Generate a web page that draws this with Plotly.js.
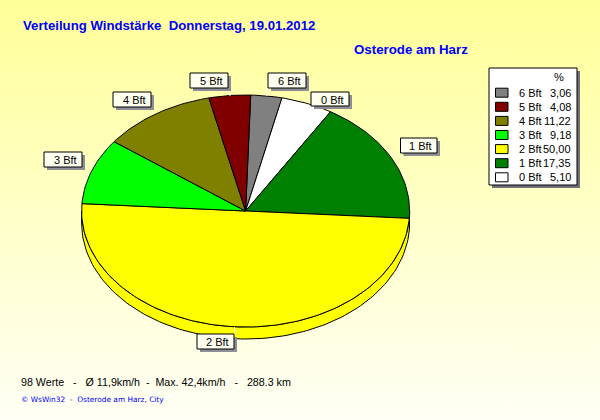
<!DOCTYPE html>
<html><head><meta charset="utf-8">
<script src="https://cdn.plot.ly/plotly-3.0.1.min.js"></script>
<style>html,body{margin:0;padding:0;width:600px;height:420px;overflow:hidden}
#c{width:600px;height:420px;background:linear-gradient(to bottom,#FFFF99 0%,#FFFFF5 100%)}</style>
</head><body><div id="c"></div>
<script>
// Data (clockwise drawing order, starting just right of 12 o'clock)
var categories = ['6 Bft','0 Bft','1 Bft','2 Bft','3 Bft','4 Bft','5 Bft'];
var percents   = [3.06, 5.10, 17.35, 50.00, 9.18, 11.22, 4.08];
var percentTexts = ['3,06','5,10','17,35','50,00','9,18','11,22','4,08'];
var colors     = ['#808080','#FFFFFF','#008000','#FFFF00','#00FF00','#808000','#800000'];
var legendOrder = ['6 Bft','5 Bft','4 Bft','3 Bft','2 Bft','1 Bft','0 Bft'];
var titleText = 'Verteilung Windstärke  Donnerstag, 19.01.2012';
var stationText = 'Osterode am Harz';
var statsText = '98 Werte   -   Ø 11,9km/h  -  Max. 42,4km/h   -   288.3 km';
var creditText = '© WsWin32  -  Osterode am Harz, City';
var labelBoxes = {'6 Bft':[268,73,306,88],'0 Bft':[311,92,349,106],'1 Bft':[400.5,138,437,153],
 '2 Bft':[197,334,234,349],'3 Bft':[44,152,82,167],'4 Bft':[113,92,151,107],'5 Bft':[190,73,228,88]};
var leaders = [[230,88,230,96],[267,88,267,96],[234.5,327,234.5,334]];

var W=600,H=420,cx=245.6,cy=211,rx=164,ry=116,depth=12,startDeg=1.8;
var D2R=Math.PI/180;
function px(x){return x/W;} function py(y){return 1-y/H;}
function pt(t){return [Math.sin(t*D2R),Math.cos(t*D2R)];}
var dy=depth/ry;
function arc(a,b,off){var n=Math.max(2,Math.ceil(Math.abs(b-a)/1.5)),xs=[],ys=[];
  for(var i=0;i<=n;i++){var p=pt(a+(b-a)*i/n);xs.push(p[0]);ys.push(p[1]-off);}return [xs,ys];}
var traces=[],sideTraces=[],a=startDeg;
categories.forEach(function(c,i){
  var sweep=percents[i]*3.6,b=a+sweep;
  var s=Math.max(a,90),e=Math.min(b,270);
  if(e>s){var t=arc(s,e,0),u=arc(e,s,dy);
    sideTraces.push({type:'scatter',mode:'lines',x:t[0].concat(u[0],[t[0][0]]),y:t[1].concat(u[1],[t[1][0]]),
      fill:'toself',fillcolor:colors[i],line:{color:'#000',width:1},hoverinfo:'skip',showlegend:false});}
  var m=arc(a,b,0);
  traces.push({type:'scatter',mode:'lines',name:c,x:[0].concat(m[0],[0]),y:[0].concat(m[1],[0]),
    fill:'toself',fillcolor:colors[i],line:{color:'#000',width:1},showlegend:false,hoverinfo:'name'});
  a=b;
});

var shapes=[],ann=[];
function rect(x0,y0,x1,y1,fill,line){shapes.push({type:'rect',xref:'paper',yref:'paper',x0:px(x0),x1:px(x1),y0:py(y0),y1:py(y1),
  fillcolor:fill,line:{color:line||fill,width:line?1:0},layer:'above'});}
function text(x,y,s,anchor,size,color,bold,fam){ann.push({xref:'paper',yref:'paper',x:px(x),y:py(y),text:bold?'<b>'+s+'</b>':s,
  showarrow:false,xanchor:anchor,yanchor:'middle',align:anchor,font:{family:fam||'Liberation Sans',size:size,color:color},borderpad:0,borderwidth:0});}

leaders.forEach(function(l){shapes.push({type:'line',xref:'paper',yref:'paper',x0:px(l[0]),y0:py(l[1]),x1:px(l[2]),y1:py(l[3]),
  line:{color:'#FFFFFF',width:1},layer:'above'});});
Object.keys(labelBoxes).forEach(function(k){var r=labelBoxes[k];
  rect(r[0]+3,r[1]+3,r[2]+3,r[3]+3,'#8E8E96');
  rect(r[0],r[1],r[2],r[3],'#FFFFF0','#000000');
  text(r[2]-5,(r[1]+r[3])/2+0.5,k,'right',11,'#000000');
});
rect(492,71,580,188,'#707078');
rect(489,68,577,185,'#FFFFFF','#000000');
text(559,77,'%','center',11,'#000000');
legendOrder.forEach(function(k,i){
  var y=92.7+i*14.1, j=categories.indexOf(k);
  rect(495.5,y-4.5,508,y+4.5,colors[j],'#000000');
  text(519,y,k,'left',11,'#000000');
  text(571,y,percentTexts[j],'right',11,'#000000');
});
text(23,25,titleText,'left',13.2,'#0000FF',true);
text(354,49,stationText,'left',13.3,'#0000FF',true);
text(21,382,statsText,'left',10.7,'#000000');
text(21,399,creditText,'left',7.4,'#0000FF',false,'DejaVu Sans');

Plotly.newPlot('c',sideTraces.concat(traces),{
  width:W,height:H,margin:{l:0,r:0,t:0,b:0},paper_bgcolor:'rgba(0,0,0,0)',plot_bgcolor:'rgba(0,0,0,0)',
  xaxis:{visible:false,range:[-cx/rx,(W-cx)/rx],fixedrange:true},
  yaxis:{visible:false,range:[(cy-H)/ry,cy/ry],fixedrange:true},
  showlegend:false,shapes:shapes,annotations:ann
},{displayModeBar:false,staticPlot:true});
</script></body></html>
